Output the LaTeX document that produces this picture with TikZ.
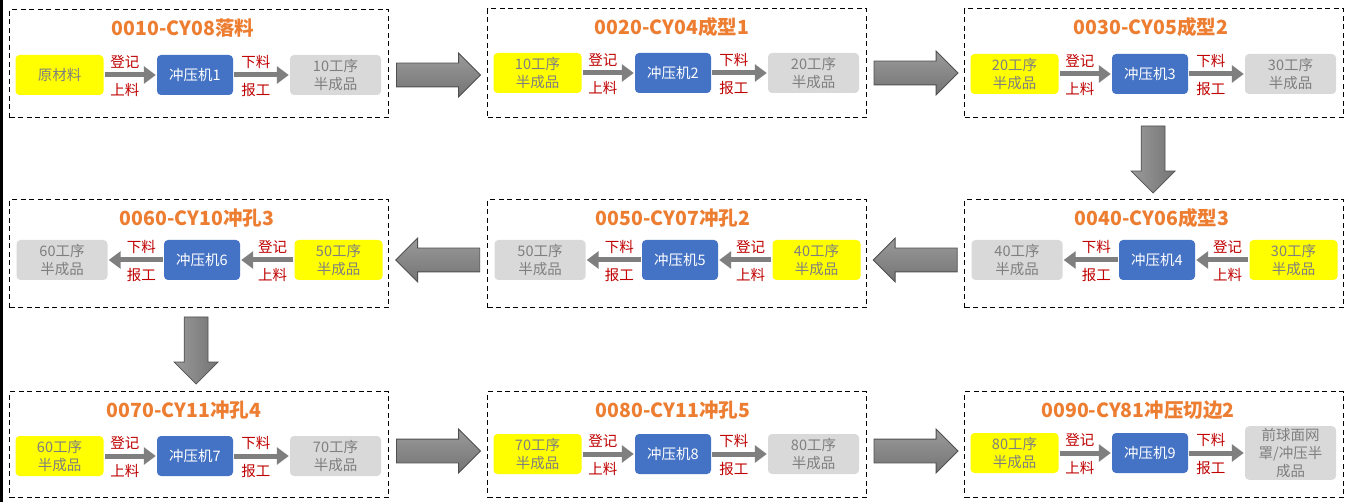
\documentclass[tikz,border=0pt]{standalone}
\usepackage{fontspec}
\setmainfont{Noto Sans CJK SC}
\usetikzlibrary{arrows.meta,shapes.arrows,calc}
\definecolor{ttlc}{HTML}{ED7D31}
\definecolor{yelc}{HTML}{FFFF00}
\definecolor{bluc}{HTML}{4472C4}
\definecolor{gryc}{HTML}{D9D9D9}
\definecolor{txtc}{HTML}{7F7F7F}
\definecolor{redc}{HTML}{C00000}
\definecolor{arrc}{HTML}{7F7F7F}
\definecolor{bigtop}{HTML}{9A9A9A}
\definecolor{bigbot}{HTML}{747474}
\definecolor{bigedge}{HTML}{505050}
\tikzset{
  stagebox/.style={draw=black, line width=1.2pt, dash pattern=on 5pt off 3.5pt, minimum width=379pt, inner sep=0pt, anchor=north west},
  ttl/.style={text=ttlc, font=\fontsize{19.5}{21}\selectfont\bfseries},
  basenode/.style={rounded corners=4pt, minimum height=40pt, inner sep=2pt, align=center, font=\fontsize{14.5}{18}\selectfont},
  ynode/.style={basenode, fill=yelc, text=txtc, minimum width=88pt},
  bnode/.style={basenode, fill=bluc, text=white, minimum width=76pt},
  gnode/.style={basenode, fill=gryc, text=txtc, minimum width=91pt},
  flow/.style={draw=arrc, line width=5pt, -{Triangle[length=12pt,width=17pt]}, shorten <=1pt, shorten >=1pt},
  lbl/.style={text=redc, font=\fontsize{14.5}{15}\selectfont, inner sep=0pt},
  bigarrow/.style={single arrow, draw=bigedge, line width=0.8pt, single arrow head extend=10pt, anchor=tail},
  bigH/.style={bigarrow, inner xsep=0pt, inner ysep=11.5pt, minimum height=84pt, top color=bigtop, bottom color=bigbot},
  bigV/.style={bigarrow, inner ysep=0pt, inner xsep=11.5pt, minimum height=67pt, left color=bigtop, right color=bigbot, shape border rotate=270}
}
% #1 id, #2 x0, #3 ytop, #4 height, #5 node cy, #6 title x, #7 title, #8 input, #9 output
\newcommand\stageRight[9]{%
  \node[stagebox, minimum height=#4pt] (b#1) at (#2,#3) {};
  \node[ttl] (t#1) at (#6,#3+19) {#7};
  \node[ynode] (i#1) at (#2+50.5,#5) {#8};
  \node[bnode] (m#1) at (#2+186,#5) {冲压机#1};
  \node[gnode] (o#1) at (#2+326.5,#5) {#9};
  \draw[flow] (i#1) -- (m#1) node[lbl,pos=0.4,yshift=13pt]{登记} node[lbl,pos=0.4,yshift=-15pt]{上料};
  \draw[flow] (m#1) -- (o#1) node[lbl,pos=0.4,yshift=13pt]{下料} node[lbl,pos=0.4,yshift=-15pt]{报工};
}
\newcommand\stageLeft[9]{%
  \node[stagebox, minimum height=#4pt] (b#1) at (#2,#3) {};
  \node[ttl] (t#1) at (#6,#3+19) {#7};
  \node[ynode] (i#1) at (#2+329.5,#5) {#8};
  \node[bnode] (m#1) at (#2+193,#5) {冲压机#1};
  \node[gnode] (o#1) at (#2+53,#5) {#9};
  \draw[flow] (i#1) -- (m#1) node[lbl,pos=0.4,yshift=13pt]{登记} node[lbl,pos=0.4,yshift=-15pt]{上料};
  \draw[flow] (m#1) -- (o#1) node[lbl,pos=0.4,yshift=13pt]{下料} node[lbl,pos=0.4,yshift=-15pt]{报工};
}
\begin{document}
\begin{tikzpicture}[x=1pt,y=-1pt]
\useasboundingbox (0,0) rectangle (1348,502);
\fill[white] (0,0) rectangle (1348,502);
\draw[line width=2.2pt] (1.5,0) -- (1.5,502);
% row 1
\stageRight{1}{9}{9}{108}{75}{183}{0010-CY08落料}{原材料}{10工序\\半成品}
\stageRight{2}{487}{8}{109}{73}{672}{0020-CY04成型1}{10工序\\半成品}{20工序\\半成品}
\stageRight{3}{964}{8}{109}{74}{1151}{0030-CY05成型2}{20工序\\半成品}{30工序\\半成品}
% row 2
\stageLeft{4}{964}{199}{108}{260}{1152}{0040-CY06成型3}{30工序\\半成品}{40工序\\半成品}
\stageLeft{5}{487}{199}{108}{260}{673}{0050-CY07冲孔2}{40工序\\半成品}{50工序\\半成品}
\stageLeft{6}{9}{199}{108}{260}{197}{0060-CY10冲孔3}{50工序\\半成品}{60工序\\半成品}
% row 3
\stageRight{7}{9}{391}{106}{456}{184}{0070-CY11冲孔4}{60工序\\半成品}{70工序\\半成品}
\stageRight{8}{487}{391}{106}{454}{673}{0080-CY11冲孔5}{70工序\\半成品}{80工序\\半成品}
\stageRight{9}{964}{391}{106}{453}{1138}{0090-CY81冲压切边2}{80工序\\半成品}{前球面网\\罩/冲压半\\成品}
% big connectors
\coordinate (g12) at ($(b1.east)!0.5!(b2.west)$);
\coordinate (g23) at ($(b2.east)!0.5!(b3.west)$);
\coordinate (g34) at ($(b3.south)!0.5!(b4.north)$);
\coordinate (g45) at ($(b4.west)!0.5!(b5.east)$);
\coordinate (g56) at ($(b5.west)!0.5!(b6.east)$);
\coordinate (g67) at ($(b6.south)!0.5!(b7.north)$);
\coordinate (g78) at ($(b7.east)!0.5!(b8.west)$);
\coordinate (g89) at ($(b8.east)!0.5!(b9.west)$);
\node[bigH] (a12) at ([xshift=-42pt]g12 |- m1) {};
\node[bigH] (a23) at ([xshift=-42pt]g23 |- m2) {};
\node[bigV] (a34) at ([xshift=-1pt,yshift=33pt]g34) {};
\node[bigH, shape border rotate=180] (a45) at ([xshift=42pt]g45 |- m4) {};
\node[bigH, shape border rotate=180] (a56) at ([xshift=42pt]g56 |- m5) {};
\node[bigV] (a67) at ([xshift=-3pt,yshift=33pt]g67) {};
\node[bigH] (a78) at ([xshift=-42pt,yshift=5pt]g78 |- m7) {};
\node[bigH] (a89) at ([xshift=-42pt,yshift=3pt]g89 |- m8) {};
\end{tikzpicture}
\end{document}
